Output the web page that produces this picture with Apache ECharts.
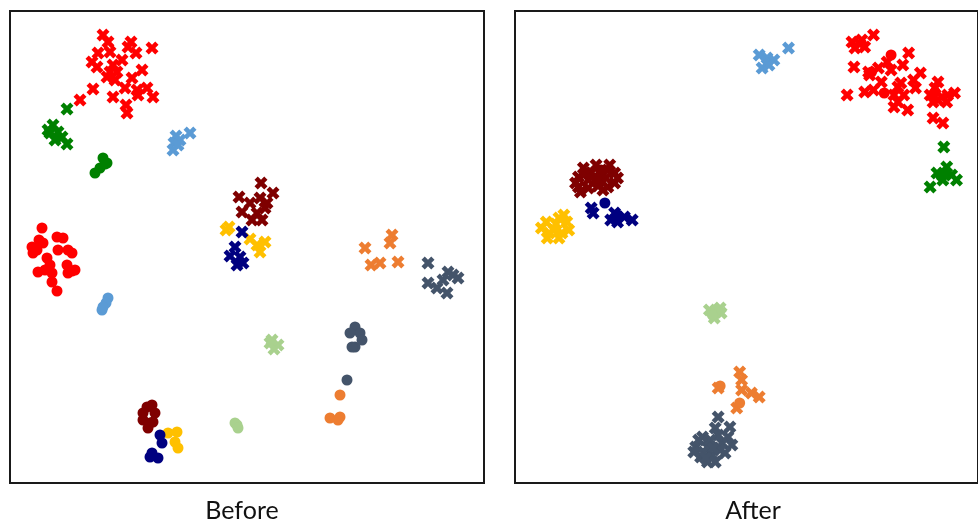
<!DOCTYPE html>
<html>
<head>
<meta charset="utf-8">
<script src="https://cdn.jsdelivr.net/npm/echarts@6/dist/echarts.min.js"></script>
<style>
  html, body { margin: 0; padding: 0; background: #fff; }
  #chart { width: 978px; height: 521px; }
</style>
</head>
<body>
<div id="chart"></div>
<script>
// Embedding coordinates for each class, split by domain marker (cross = source, circle = target).
// Panel titles
const panelTitles = ['Before', 'After'];

// Class colours
const colors = {
  red: '#FF0000', green: '#008000', blue: '#5B9BD5', maroon: '#7F0000', gold: '#FFC000',
  navy: '#000080', orange: '#ED7D31', slate: '#44546A', lime: '#A9D18E'
};

// ---- Before ----
const beforeRedX = [[103,35],[108,42],[131,42],[152,48],[98,53],[110,52],[128,47],[136,53],[92,62],[97,67],[113,65],[122,60],[110,72],[142,70],[115,80],[132,78],[125,88],[137,90],[147,88],[153,97],[138,95],[113,97],[126,105],[127,113],[93,89],[80,100],[107,77],[117,72]];
const beforeRedO = [[42,228],[39,240],[32,247],[37,250],[43,243],[57,237],[63,238],[58,250],[68,250],[72,253],[47,258],[38,272],[45,270],[50,265],[52,273],[67,265],[68,273],[75,270],[52,282],[57,291],[33,253],[72,271]];
const beforeGreenX = [[67,109],[53,125],[50,133],[58,132],[55,140],[67,144],[62,137],[48,130]];
const beforeGreenO = [[103,158],[105,164],[100,168],[95,173],[107,163]];
const beforeBlueX = [[176,136],[190,133],[174,143],[173,150],[180,140],[178,145]];
const beforeBlueO = [[108,298],[106,303],[102,310],[103,307]];
const beforeMaroonX = [[261,183],[239,197],[273,193],[260,198],[267,203],[250,203],[242,212],[265,208],[252,220],[262,220],[257,213]];
const beforeMaroonO = [[147,407],[152,405],[143,413],[155,413],[143,420],[150,423],[148,428],[153,422]];
const beforeGoldX = [[229,227],[226,230],[250,239],[265,242],[260,252],[257,245]];
const beforeGoldO = [[168,433],[177,432],[175,442],[178,448]];
const beforeNavyX = [[242,232],[235,247],[230,256],[240,257],[237,265],[243,263]];
const beforeNavyO = [[160,435],[162,443],[152,453],[158,458],[150,457]];
const beforeOrangeX = [[365,248],[392,235],[390,243],[371,265],[380,263],[398,262]];
const beforeOrangeO = [[340,395],[330,418],[340,417],[338,420]];
const beforeSlateX = [[428,263],[448,272],[458,278],[428,283],[437,288],[447,293],[443,280],[453,275]];
const beforeSlateO = [[355,327],[360,333],[355,347],[350,333],[362,340],[352,347],[347,380]];
const beforeLimeX = [[270,343],[278,345],[274,349],[272,340]];
const beforeLimeO = [[237,425],[235,423],[238,428]];

// ---- After ----
const afterRedX = [[860,42],[870,40],[882,35],[863,48],[873,47],[862,67],[918,53],[912,65],[877,72],[887,68],[900,70],[930,73],[923,80],[890,82],[855,95],[873,92],[882,90],[907,87],[913,95],[907,102],[917,110],[903,107],[948,82],[940,95],[952,97],[965,93],[957,102],[943,102],[943,118],[953,123],[910,83],[925,88],[868,44],[878,75],[896,62],[903,95],[945,88],[958,95],[948,100]];
const afterRedO = [[900,55],[893,93],[880,72],[945,92]];
const afterGreenX = [[954,147],[957,167],[947,173],[962,175],[953,180],[940,187],[967,180]];
const afterGreenO = [[956,172],[951,176]];
const afterBlueX = [[795,48],[773,58],[765,55],[780,60],[768,68],[775,65]];
const afterMaroonX = [[598,165],[610,170],[617,173],[580,177],[590,180],[577,183],[600,182],[610,187],[617,183],[582,192],[605,190],[593,173],[603,177],[587,173],[585,168],[608,178],[612,165],[620,178],[590,188],[600,186],[580,187]];
const afterMaroonO = [[603,170],[598,178]];
const afterNavyX = [[593,208],[595,213],[617,213],[613,220],[627,217],[635,220],[620,222]];
const afterNavyO = [[607,203],[620,215]];
const afterGoldX = [[542,228],[560,218],[565,215],[555,230],[570,230],[560,238],[550,233],[563,233],[547,222],[557,224],[568,222],[548,238]];
const afterLimeX = [[721,312],[714,310],[726,313],[719,318],[725,308]];
const afterLimeO = [[721,310],[717,315]];
const afterOrangeX = [[745,372],[747,380],[723,388],[747,390],[757,393],[765,397],[742,408]];
const afterOrangeO = [[745,403],[725,386]];
const afterSlateX = [[723,417],[735,427],[720,428],[707,437],[700,447],[712,447],[727,443],[737,445],[705,457],[717,455],[730,453],[712,462],[720,462],[723,435],[703,440],[715,440],[725,450],[708,452],[698,452],[733,437],[718,448],[710,458]];

const crossPath = 'path://M2.5,0 L5,2.5 L7.5,0 L10,2.5 L7.5,5 L10,7.5 L7.5,10 L5,7.5 L2.5,10 L0,7.5 L2.5,5 L0,2.5 Z';

function scatter(data, color, kind, panel) {
  return {
    type: 'scatter',
    xAxisIndex: panel, yAxisIndex: panel,
    data: data,
    symbol: kind === 'x' ? crossPath : 'circle',
    symbolSize: kind === 'x' ? 13 : 11,
    itemStyle: { color: color, opacity: 1 },
    silent: true,
    animation: false
  };
}

const series = [
  scatter(beforeRedX, colors.red, 'x', 0), scatter(beforeRedO, colors.red, 'o', 0),
  scatter(beforeGreenX, colors.green, 'x', 0), scatter(beforeGreenO, colors.green, 'o', 0),
  scatter(beforeBlueX, colors.blue, 'x', 0), scatter(beforeBlueO, colors.blue, 'o', 0),
  scatter(beforeMaroonX, colors.maroon, 'x', 0), scatter(beforeMaroonO, colors.maroon, 'o', 0),
  scatter(beforeGoldX, colors.gold, 'x', 0), scatter(beforeGoldO, colors.gold, 'o', 0),
  scatter(beforeNavyX, colors.navy, 'x', 0), scatter(beforeNavyO, colors.navy, 'o', 0),
  scatter(beforeOrangeX, colors.orange, 'x', 0), scatter(beforeOrangeO, colors.orange, 'o', 0),
  scatter(beforeSlateX, colors.slate, 'x', 0), scatter(beforeSlateO, colors.slate, 'o', 0),
  scatter(beforeLimeX, colors.lime, 'x', 0), scatter(beforeLimeO, colors.lime, 'o', 0),

  scatter(afterRedX, colors.red, 'x', 1), scatter(afterRedO, colors.red, 'o', 1),
  scatter(afterGreenX, colors.green, 'x', 1), scatter(afterGreenO, colors.green, 'o', 1),
  scatter(afterBlueX, colors.blue, 'x', 1),
  scatter(afterMaroonX, colors.maroon, 'x', 1), scatter(afterMaroonO, colors.maroon, 'o', 1),
  scatter(afterNavyX, colors.navy, 'x', 1), scatter(afterNavyO, colors.navy, 'o', 1),
  scatter(afterGoldX, colors.gold, 'x', 1),
  scatter(afterLimeX, colors.lime, 'x', 1), scatter(afterLimeO, colors.lime, 'o', 1),
  scatter(afterOrangeX, colors.orange, 'x', 1), scatter(afterOrangeO, colors.orange, 'o', 1),
  scatter(afterSlateX, colors.slate, 'x', 1)
];

const hiddenAxis = { type: 'value', show: false, splitLine: { show: false }, scale: false };

const chart = echarts.init(document.getElementById('chart'), null, { renderer: 'canvas' });
chart.setOption({
  backgroundColor: '#ffffff',
  animation: false,
  grid: [
    { left: 10, top: 11, width: 474, height: 472, show: true, borderColor: '#1a1a1a', borderWidth: 2, backgroundColor: 'transparent' },
    { left: 515, top: 11, width: 474, height: 472, show: true, borderColor: '#1a1a1a', borderWidth: 2, backgroundColor: 'transparent' }
  ],
  xAxis: [
    Object.assign({}, hiddenAxis, { gridIndex: 0, min: 10, max: 484 }),
    Object.assign({}, hiddenAxis, { gridIndex: 1, min: 515, max: 989 })
  ],
  yAxis: [
    Object.assign({}, hiddenAxis, { gridIndex: 0, min: 11, max: 483, inverse: true }),
    Object.assign({}, hiddenAxis, { gridIndex: 1, min: 11, max: 483, inverse: true })
  ],
  title: [
    { text: panelTitles[0], left: 237, top: 493, textAlign: 'center',
      textStyle: { fontFamily: 'Lato', fontSize: 25, fontWeight: 'normal', color: '#111' } },
    { text: panelTitles[1], left: 748, top: 493, textAlign: 'center',
      textStyle: { fontFamily: 'Lato', fontSize: 25, fontWeight: 'normal', color: '#111' } }
  ],
  series: series
});
</script>
</body>
</html>
